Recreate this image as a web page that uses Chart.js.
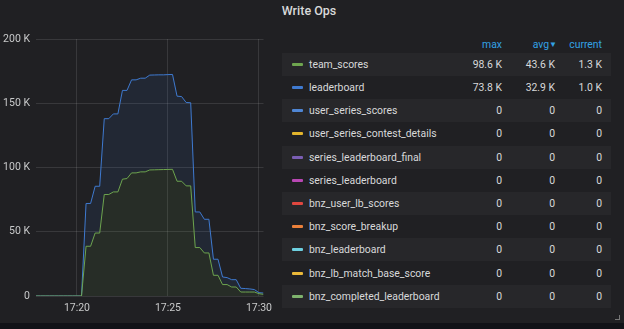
<!DOCTYPE html>
<html>
<head>
<meta charset="utf-8">
<script src="https://cdn.jsdelivr.net/npm/chart.js@4.4.1/dist/chart.umd.min.js"></script>
<style>
body { margin: 0; background: #111217; font-family: Roboto, "Noto Sans", sans-serif; }
#panel { position: absolute; left: 0; top: 0; width: 624px; height: 323px; background: #202023; overflow: hidden; }
#title { position: absolute; left: 0; top: 2px; width: 618px; text-align: center; color: #d8d9da; font-size: 12.5px; font-weight: 500; line-height: 18px; }
#chartBox { position: absolute; left: 0; top: 0; width: 280px; height: 323px; }
.row { position: absolute; left: 282px; width: 329px; height: 23.2px; line-height: 23.2px; color: #d8d9da; font-size: 10.4px; }
.row.alt { background: #27272a; }
.dash { position: absolute; left: 10px; top: 10px; width: 11px; height: 3px; border-radius: 1px; }
.name { position: absolute; left: 27px; }
.num { position: absolute; text-align: right; white-space: nowrap; }
.head { color: #33a2e5; }
#corner { position: absolute; right: 4px; bottom: 3px; width: 4px; height: 4px; border-right: 1px solid #777; border-bottom: 1px solid #777; }
</style>
</head>
<body>
<div id="panel">
  <div id="title">Write Ops</div>
  <div id="chartBox"><canvas id="writeOps"></canvas></div>
  <div id="legend"></div>
  <div id="corner"></div>
</div>
<script>
// sample times (15 s steps)
const times = [
  '17:17:45', '17:18:00', '17:18:15', '17:18:30', '17:18:45', '17:19:00', '17:19:15', '17:19:30',
  '17:19:45', '17:20:00', '17:20:15', '17:20:30', '17:20:45', '17:21:00', '17:21:15', '17:21:30',
  '17:21:45', '17:22:00', '17:22:15', '17:22:30', '17:22:45', '17:23:00', '17:23:15', '17:23:30',
  '17:23:45', '17:24:00', '17:24:15', '17:24:30', '17:24:45', '17:25:00', '17:25:15', '17:25:30',
  '17:25:45', '17:26:00', '17:26:15', '17:26:30', '17:26:45', '17:27:00', '17:27:15', '17:27:30',
  '17:27:45', '17:28:00', '17:28:15', '17:28:30', '17:28:45', '17:29:00', '17:29:15', '17:29:30',
  '17:29:45', '17:30:00', '17:30:15'
];

// values in K ops
const teamScores = [
  0, 0, 0, 0, 0, 0, 0, 0, 0, 0, 0,
  38.7, 38.7, 49, 49, 79, 79, 81, 81, 90.9, 91.4,
  95.8, 95.8, 96.6, 96.6, 98.1, 98.2, 98.3, 98.4, 98.5, 98.6,
  89.3, 89.3, 85.7, 85.7, 37.7, 37.7, 33.5, 33.5, 16.1, 16.1,
  8.9, 8.9, 7.0, 7.0, 3.1, 3.1, 3.1, 3.1, 1.8, 1.3
];
const leaderboard = [
  0, 0, 0, 0, 0, 0, 0, 0, 0, 0, 0,
  33.3, 33.3, 36.4, 36.4, 59, 59, 60.7, 60.7, 69.1, 68.6,
  72.4, 72.4, 72.9, 72.9, 73.8, 73.8, 73.8, 73.7, 73.8, 73.8,
  66.2, 65.9, 64.9, 64.7, 27.7, 27.7, 26.2, 26.2, 12.5, 12.5,
  5.9, 5.4, 5.7, 5.7, 2.9, 2.7, 2.4, 1.9, 0.8, 1.0
];

const xTicks = [20, 25, 30];
const yTicks = [0, 50, 100, 150, 200];

// legend table
const seriesNames = [
  'team_scores', 'leaderboard', 'user_series_scores', 'user_series_contest_details',
  'series_leaderboard_final', 'series_leaderboard', 'bnz_user_lb_scores', 'bnz_score_breakup',
  'bnz_leaderboard', 'bnz_lb_match_base_score', 'bnz_completed_leaderboard'
];
const seriesColors = [
  '#6ea54f', '#3f7ad0', '#4f86d4', '#e2b42c', '#7a5eb3', '#b847b3',
  '#e0473f', '#eb803a', '#6ed0e0', '#eab839', '#7eb26d'
];
const maxVals = ['98.6 K', '73.8 K', '0', '0', '0', '0', '0', '0', '0', '0', '0'];
const avgVals = ['43.6 K', '32.9 K', '0', '0', '0', '0', '0', '0', '0', '0', '0'];
const currentVals = ['1.3 K', '1.0 K', '0', '0', '0', '0', '0', '0', '0', '0', '0'];

function toMinutes(t) {
    let p = t.split(':').map(Number);
    return (p[0] - 17) * 60 + p[1] + p[2] / 60;
}

function toPoints(vals) {
    return vals.map((v, i) => ({ x: toMinutes(times[i]), y: v }));
}

function buildLegend() {
    let legend = document.getElementById('legend');
    let html = '<div class="row head" style="top:32.5px">' +
        '<span class="num" style="right:109px">max</span>' +
        '<span class="num" style="right:54px">avg<span style="font-size:8px;position:relative;top:-1px">&#9660;</span></span>' +
        '<span class="num" style="right:9px">current</span></div>';
    seriesNames.forEach((name, i) => {
        let top = 52.7 + 23.2 * i;
        html += '<div class="row' + (i % 2 == 0 ? ' alt' : '') + '" style="top:' + top + 'px">' +
            '<span class="dash" style="background:' + seriesColors[i] + '"></span>' +
            '<span class="name">' + name + '</span>' +
            '<span class="num" style="right:109px">' + maxVals[i] + '</span>' +
            '<span class="num" style="right:56px">' + avgVals[i] + '</span>' +
            '<span class="num" style="right:9px">' + currentVals[i] + '</span></div>';
    });
    legend.innerHTML = html;
}

buildLegend();

const gridColor = 'rgba(255,255,255,0.11)';
const tickFont = { family: 'Roboto', size: 10.5 };

new Chart(document.getElementById('writeOps'), {
    type: 'line',
    data: {
        datasets: [{
            label: 'team_scores',
            data: toPoints(teamScores),
            borderColor: seriesColors[0],
            backgroundColor: 'rgba(110,165,79,0.1)',
            fill: 'origin'
        }, {
            label: 'leaderboard',
            data: toPoints(leaderboard),
            borderColor: seriesColors[1],
            backgroundColor: 'rgba(63,122,208,0.1)',
            fill: '-1'
        }]
    },
    options: {
        responsive: true,
        maintainAspectRatio: false,
        animation: false,
        elements: {
            line: { borderWidth: 1, tension: 0 },
            point: { radius: 0 }
        },
        layout: { padding: { top: 39, right: 16.5, left: 0, bottom: 0 } },
        plugins: {
            legend: { display: false },
            tooltip: { enabled: false }
        },
        scales: {
            x: {
                type: 'linear',
                min: 17.75,
                max: 30.25,
                afterBuildTicks: s => { s.ticks = xTicks.map(v => ({ value: v })); },
                afterFit: s => { s.height = 27; },
                grid: { color: gridColor, drawTicks: false },
                border: { display: false },
                ticks: {
                    color: '#c8c9ca',
                    font: tickFont,
                    padding: 6,
                    maxRotation: 0,
                    callback: v => '17:' + String(v).padStart(2, '0')
                }
            },
            y: {
                stacked: true,
                min: 0,
                max: 200,
                afterBuildTicks: s => { s.ticks = yTicks.map(v => ({ value: v })); },
                afterFit: s => { s.width = 36; },
                grid: { color: gridColor, drawTicks: false },
                border: { display: false },
                ticks: {
                    color: '#c8c9ca',
                    font: tickFont,
                    padding: 6,
                    callback: v => v == 0 ? '0' : v + ' K'
                }
            }
        }
    }
});
</script>
</body>
</html>
